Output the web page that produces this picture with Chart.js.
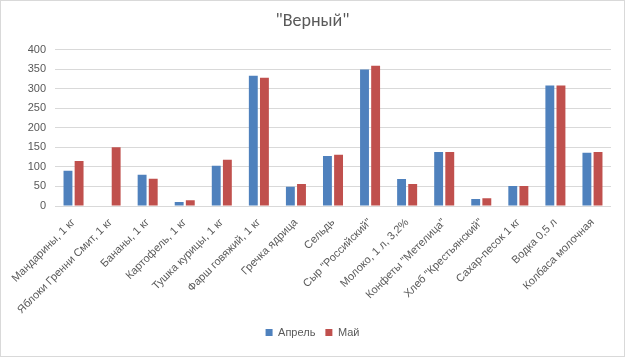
<!DOCTYPE html>
<html><head><meta charset="utf-8">
<script src="https://cdn.jsdelivr.net/npm/chart.js@4"></script>
<style>
html,body{margin:0;padding:0;background:#fff;}
#wrap{width:625px;height:357px;box-sizing:border-box;border:1px solid #d9d9d9;}
</style></head><body>
<div id="wrap"><canvas id="c" width="623" height="355"></canvas></div>
<script>
const categories = ["Мандарины, 1 кг","Яблоки Гренни Смит, 1 кг","Бананы, 1 кг","Картофель, 1 кг","Тушка курицы, 1 кг","Фарш говяжий, 1 кг","Гречка ядрица","Сельдь","Сыр \"Российский\"","Молоко, 1 л, 3,2%","Конфеты \"Метелица\"","Хлеб \"Крестьянский\"","Сахар-песок 1 кг","Водка 0,5 л","Колбаса молочная"];
const april = [90, 0, 80, 10, 103, 333, 49, 128, 349, 69, 138, 18, 51, 308, 136];
const may = [115, 150, 70, 15, 118, 328, 56, 131, 359, 56, 138, 20, 51, 308, 138];
const yTicks = [0,50,100,150,200,250,300,350,400];

new Chart(document.getElementById('c'), {
  type: 'bar',
  data: {
    labels: categories,
    datasets: [
      {label:'Апрель', data: april, backgroundColor:'#4f81bd'},
      {label:'Май', data: may, backgroundColor:'#c0504d'}
    ]
  },
  options: {
    responsive:false, animation:false,
    devicePixelRatio:1,
    layout:{padding:{left:13,right:13,top:10,bottom:8}},
    datasets:{bar:{barPercentage:0.8, categoryPercentage:0.6}},
    plugins:{
      title:{display:true, text:'"Верный"', color:'#595959', font:{family:'Calibri, Carlito, "Liberation Sans", sans-serif', size:18, weight:'normal'}, padding:{top:0,bottom:17}},
      legend:{position:'bottom', labels:{color:'#595959', boxWidth:7, boxHeight:7, padding:10, font:{family:'"Liberation Sans", sans-serif', size:11}}},
      tooltip:{enabled:false}
    },
    scales:{
      x:{
        grid:{display:false}, border:{display:false},
        ticks:{color:'#595959', maxRotation:45, minRotation:45, autoSkip:false, padding:2, font:{family:'"Liberation Sans", sans-serif', size:11}},
        afterFit:(s)=>{s.height=111;}
      },
      y:{
        min:0, max:400,
        afterBuildTicks:(s)=>{s.ticks = yTicks.map(v=>({value:v}));},
        grid:{color:'#d9d9d9', drawTicks:false}, border:{display:false},
        ticks:{color:'#595959', padding:9, font:{family:'"Liberation Sans", sans-serif', size:11}},
        afterFit:(s)=>{s.width=41;}
      }
    }
  }
});
</script></body></html>
